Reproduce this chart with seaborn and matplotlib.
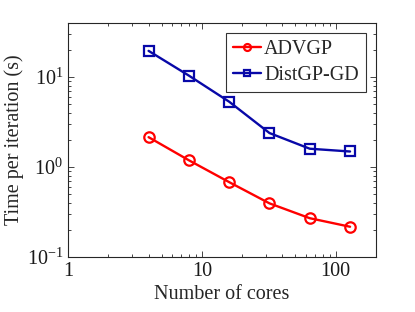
import pandas as pd
import matplotlib
matplotlib.use("Agg")
import matplotlib.pyplot as plt
import matplotlib.ticker as mticker
import seaborn as sns

# values
cores = [4, 8, 16, 32, 64, 128]
advgp = [2.15, 1.19, 0.68, 0.395, 0.27, 0.217]
distgp = [19.6, 10.4, 5.33, 2.39, 1.6, 1.49]
series_names = ["ADVGP", "DistGP-GD"]
x_ticks = [1, 10, 100]
y_ticks = [0.1, 1, 10]

df = pd.DataFrame({
    "cores": cores * 2,
    "time": advgp + distgp,
    "method": [series_names[0]] * len(cores) + [series_names[1]] * len(cores),
})

sns.set_style("ticks")
plt.rcParams["font.family"] = ["Liberation Serif", "DejaVu Serif"]
plt.rcParams["mathtext.fontset"] = "stix"
plt.rcParams["xtick.direction"] = "in"
plt.rcParams["ytick.direction"] = "in"

fig = plt.figure(figsize=(4.15, 3.12), dpi=100)
ax = fig.add_axes([68 / 415, 1 - 257 / 312, (376 - 68) / 415, (257 - 23) / 312])

palette = {"ADVGP": "#ff0000", "DistGP-GD": "#0808a8"}
markers = {"ADVGP": "o", "DistGP-GD": "s"}
sns.lineplot(data=df, x="cores", y="time", hue="method", style="method",
             palette=palette, markers=markers, dashes=False, ax=ax,
             linewidth=1.7, markersize=7.5, markerfacecolor="none",
             markeredgewidth=1.6)
for line in ax.lines:
    line.set_markeredgecolor(line.get_color())

ax.set_xscale("log")
ax.set_yscale("log")
ax.set_xlim(1, 200)
ax.set_ylim(0.1, 40)
ax.set_xticks(x_ticks)
ax.xaxis.set_major_formatter(mticker.FuncFormatter(lambda v, p: f"{int(v)}"))
ax.set_yticks(y_ticks)
ax.yaxis.set_major_formatter(mticker.LogFormatterMathtext())

edge = "#262626"
for s in ax.spines.values():
    s.set_color(edge)
    s.set_linewidth(0.8)
ax.tick_params(which="both", top=True, right=True, colors=edge,
               labelcolor="#1a1a1a", labelsize=14.5, width=0.6)
ax.tick_params(which="major", length=4)
ax.tick_params(which="minor", length=2)

ax.set_xlabel("Number of cores", fontsize=14.5, labelpad=3)
ax.set_ylabel("Time per iteration (s)", fontsize=14.5, labelpad=2)

leg = ax.legend(loc="upper right", fontsize=14.5, frameon=True, fancybox=False,
                handlelength=1.4, borderpad=0.35, labelspacing=0.35,
                handletextpad=0.15, borderaxespad=0.5)
leg.get_frame().set_edgecolor("black")
leg.get_frame().set_linewidth(0.8)
for h in leg.get_lines():
    h.set_markersize(5)

fig.savefig("out.png", dpi=100)
